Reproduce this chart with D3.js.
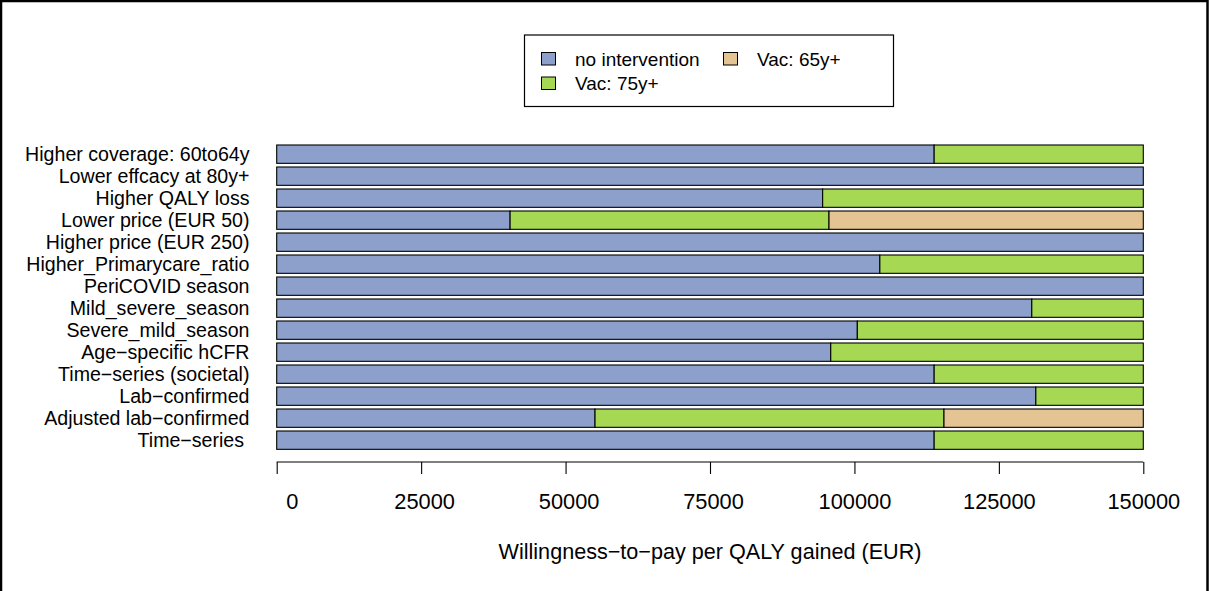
<!DOCTYPE html>
<html><head><meta charset="utf-8">
<script src="https://cdn.jsdelivr.net/npm/d3@7"></script>
<style>
html,body{margin:0;padding:0;background:#fff;}
svg text{font-family:"Liberation Sans",Arial,Helvetica,sans-serif;fill:#000;white-space:pre;}
</style></head>
<body>
<svg id="chart" width="1209" height="591"></svg>
<script>
const categories = [
  "Higher coverage: 60to64y",
  "Lower effcacy at 80y+",
  "Higher QALY loss",
  "Lower price (EUR 50)",
  "Higher price (EUR 250)",
  "Higher_Primarycare_ratio",
  "PeriCOVID season",
  "Mild_severe_season",
  "Severe_mild_season",
  "Age\u2212specific hCFR",
  "Time\u2212series (societal)",
  "Lab\u2212confirmed",
  "Adjusted lab\u2212confirmed",
  "Time\u2212series "
];
const noIntervention = [113800,150000,94500,40400,150000,104400,150000,130700,100500,95900,113800,131400,55100,113800];
const vac75 = [36200,0,55500,55200,0,45600,0,19300,49500,54100,36200,18600,60400,36200];
const vac65 = [0,0,0,54400,0,0,0,0,0,0,0,0,34500,0];
const seriesNames = ["no intervention","Vac: 75y+","Vac: 65y+"];
const seriesColors = ["#8DA0CB","#A6D854","#E5C494"];
const xTicks = [0,25000,50000,75000,100000,125000,150000];
const xTitle = "Willingness\u2212to\u2212pay per QALY gained (EUR)";

const svg = d3.select("#chart");
svg.append("rect").attr("x",1).attr("y",1).attr("width",1206.5).attr("height",600)
  .attr("fill","none").attr("stroke","#000").attr("stroke-width",2.5);

const x = d3.scaleLinear().domain([0,150000]).range([276.7,1143.3]);
const y = d3.scaleBand().domain(categories).range([145,449.33]).paddingInner(1/6).paddingOuter(0);

const rows = categories.map((c,i)=>({cat:c, [seriesNames[0]]:noIntervention[i], [seriesNames[1]]:vac75[i], [seriesNames[2]]:vac65[i]}));
const stacked = d3.stack().keys(seriesNames)(rows);

const g = svg.append("g");
stacked.forEach((s,si)=>{
  g.selectAll(null).data(s.filter(d=>d[1]-d[0]>0)).enter().append("rect")
    .attr("x",d=>x(d[0])).attr("y",d=>y(d.data.cat))
    .attr("width",d=>x(d[1])-x(d[0])).attr("height",y.bandwidth())
    .attr("fill",seriesColors[si]).attr("stroke","#000").attr("stroke-width",1.1);
});

// y labels
svg.append("g").selectAll("text").data(categories).enter().append("text")
  .attr("x",249.5).attr("y",d=>y(d)+y.bandwidth()/2).attr("dy","0.36em")
  .attr("text-anchor","end").style("font-size","19.6px").text(d=>d);

// x axis
const ax = svg.append("g").attr("transform","translate(0,462)")
  .call(d3.axisBottom(x).tickValues(xTicks).tickSizeOuter(0).tickSize(12).tickPadding(0)
    .tickFormat(d=>String(d).padStart(6," ")));
ax.select(".domain").attr("stroke","#000").attr("stroke-width",1.1).attr("d","M"+x(0)+",0H"+x(150000));
ax.selectAll(".tick line").attr("stroke","#000").attr("stroke-width",1.1);
ax.selectAll(".tick text").attr("y",47).attr("dy",0).style("font-size","21.8px").attr("font-family",null);

svg.append("text").attr("x",(x(0)+x(150000))/2).attr("y",559).attr("text-anchor","middle")
  .style("font-size","21.6px").text(xTitle);

// legend
const lg = svg.append("g");
lg.append("rect").attr("x",524.5).attr("y",35).attr("width",369).attr("height",71.5)
  .attr("fill","#fff").attr("stroke","#000").attr("stroke-width",1.2);
const legendPos = [[541.5,52.5],[541.5,77],[723.5,52.5]];
seriesNames.forEach((n,i)=>{
  const [lx,ly]=legendPos[i];
  lg.append("rect").attr("x",lx).attr("y",ly).attr("width",14).attr("height",12.5)
    .attr("fill",seriesColors[i]).attr("stroke","#000").attr("stroke-width",1);
  lg.append("text").attr("x",lx+33.5).attr("y",ly+13).style("font-size","19px").text(n);
});
</script>
</body></html>
